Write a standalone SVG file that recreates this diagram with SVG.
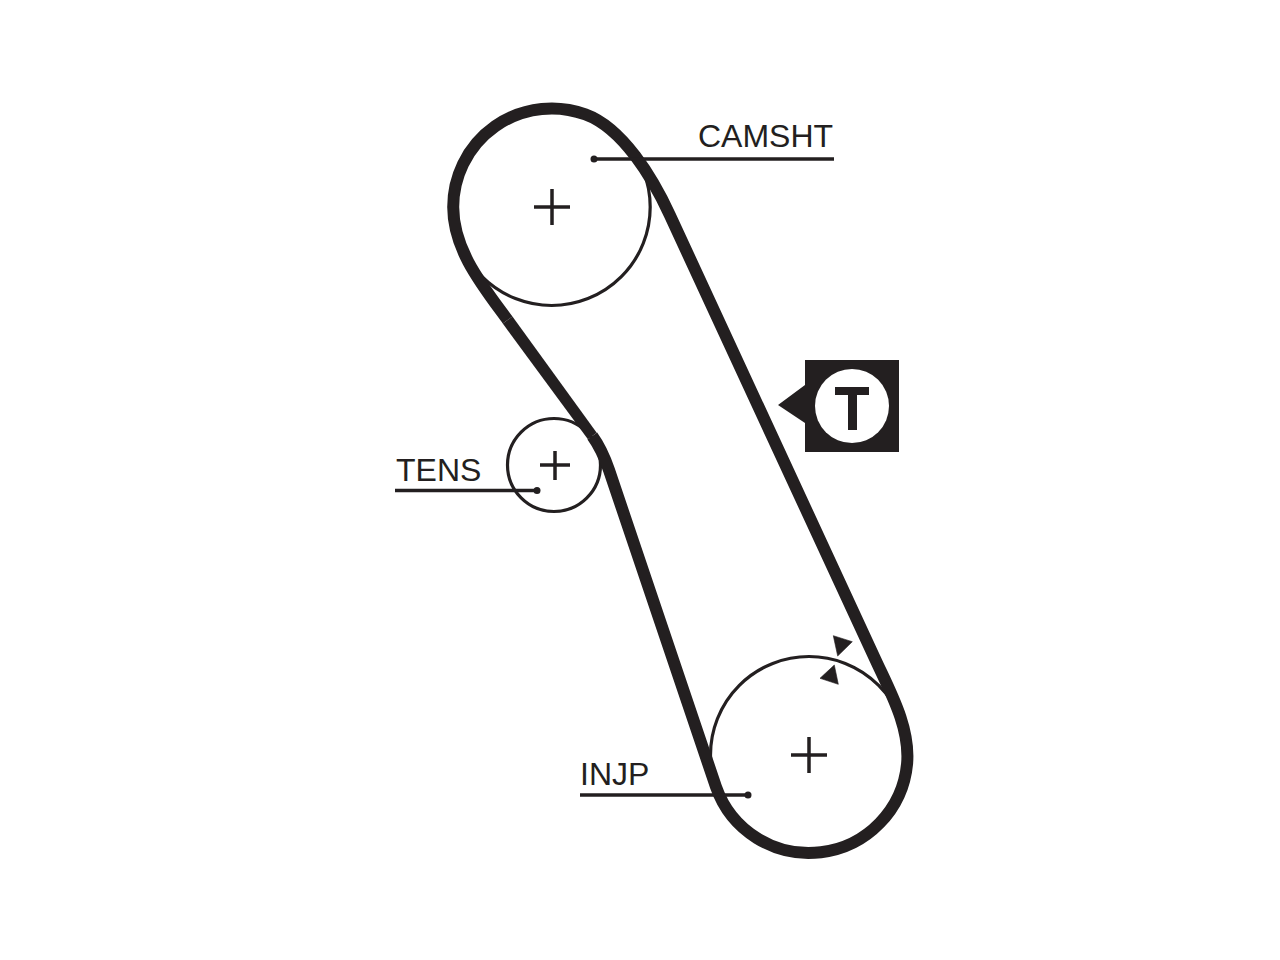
<svg xmlns="http://www.w3.org/2000/svg" width="1280" height="960" viewBox="0 0 1280 960">
<style>
.thin{fill:none;stroke:#231f20;stroke-width:3.2}
.plus{fill:none;stroke:#231f20;stroke-width:3.5}
.lead{fill:none;stroke:#231f20;stroke-width:3.5}
.dot{fill:#231f20}
.belt{fill:none;stroke:#231f20;stroke-width:12;stroke-linejoin:round}
.mark{fill:#231f20;stroke:#231f20;stroke-width:.6;stroke-linejoin:round}
.lab{font-family:"Liberation Sans",Arial,sans-serif;font-size:32px;fill:#231f20}
</style>
<rect width="1280" height="960" fill="#fff"/>
<g id="camshaft">
<circle class="thin" cx="551.700" cy="207" r="98.500"/>
<path class="plus" d="M534 207H570M552 189V225"/>
</g>
<g id="tensioner">
<circle class="thin" cx="554" cy="465" r="46.500"/>
<path class="plus" d="M540 465H570M555 451V480"/>
</g>
<g id="injection-pump">
<circle class="thin" cx="809" cy="755" r="98.500"/>
<path class="plus" d="M791 755H827M809 737V773"/>
</g>
<g id="connectors">
<path class="belt" d="M592.300 436Q602 449.400 609 470L716 786.900A98.500 98.500 0 0 0 907.100 763.600C910.200 727.700 890.700 692.700 875.600 660L669.800 215C653 178.700 623 128.100 585.400 114.400A98.500 98.500 0 0 0 453.200 207C453.200 250 482.200 285.300 507.600 320"/>
<path d="M512.450 316.460L596.700 432.800L587.900 439.200L502.750 323.540Z" fill="#231f20"/>
<path class="lead" d="M594 159H834"/><circle class="dot" cx="594" cy="159" r="3.500"/>
<path class="lead" d="M395 490.500H537"/><circle class="dot" cx="537" cy="490.500" r="3.500"/>
<path class="lead" d="M580 795H748"/><circle class="dot" cx="748" cy="795" r="3.500"/>
</g>
<g id="label-camsht"><text class="lab" x="698" y="147">CAMSHT</text></g>
<g id="label-tens"><text class="lab" x="396" y="481">TENS</text></g>
<g id="label-injp"><text class="lab" x="580" y="785">INJP</text></g>
<g id="tension-mark">
<path d="M805 360H899V452H805V423L778 405L805 385Z" fill="#231f20"/>
<circle cx="852" cy="406" r="37" fill="#fff"/>
<path d="M835 387H869V395H857V430H848V395H835Z" fill="#231f20"/>
</g>
<g id="timing-mark">
<path class="mark" d="M833.300 635.700L852.300 641.700L837.700 656Z"/>
<path class="mark" d="M834.300 665L838.300 684.300L820 678.300Z"/>
</g>
</svg>
